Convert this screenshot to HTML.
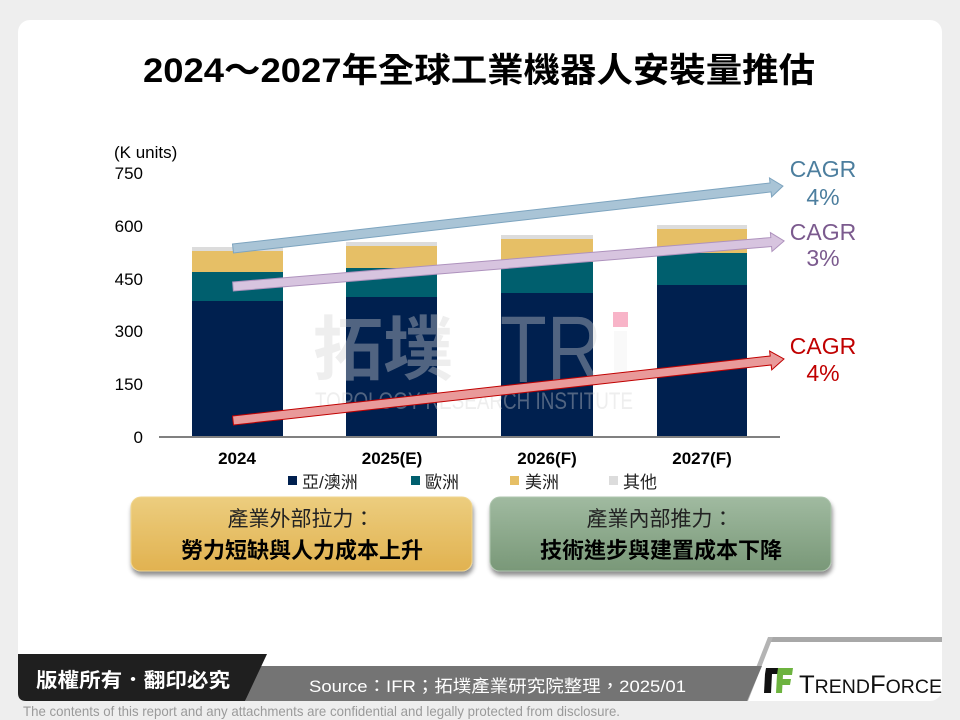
<!DOCTYPE html>
<html><head><meta charset="utf-8"><style>
html,body{margin:0;padding:0;background:#eeeeee;}
svg{display:block;}
text{font-family:"Liberation Sans","Noto Sans CJK TC",sans-serif;}
</style></head><body>
<svg width="960" height="720" viewBox="0 0 960 720" xmlns="http://www.w3.org/2000/svg">
<defs>
<linearGradient id="gy" x1="0" y1="0" x2="0" y2="1"><stop offset="0" stop-color="#ECCD7E"/><stop offset="1" stop-color="#E1B250"/></linearGradient>
<linearGradient id="gg" x1="0" y1="0" x2="0" y2="1"><stop offset="0" stop-color="#A0BAA0"/><stop offset="1" stop-color="#799878"/></linearGradient>
<filter id="sh" x="-10%" y="-20%" width="120%" height="150%"><feGaussianBlur in="SourceAlpha" stdDeviation="2.5"/><feOffset dx="1" dy="4"/><feComponentTransfer><feFuncA type="linear" slope="0.45"/></feComponentTransfer><feMerge><feMergeNode/><feMergeNode in="SourceGraphic"/></feMerge></filter>
</defs>
<rect width="960" height="720" fill="#eeeeee"/>
<rect x="18" y="20" width="924" height="681" rx="12" fill="#ffffff"/>

<!-- title -->
<text x="143" y="82" font-size="34" font-weight="bold" fill="#000" textLength="672" lengthAdjust="spacingAndGlyphs">2024～2027年全球工業機器人安裝量推估</text>

<!-- y axis -->
<g font-size="17" fill="#000">
<text x="114" y="158">(K units)</text>
<text x="143" y="179" text-anchor="end">750</text>
<text x="143" y="232" text-anchor="end">600</text>
<text x="143" y="285" text-anchor="end">450</text>
<text x="143" y="337" text-anchor="end">300</text>
<text x="143" y="390" text-anchor="end">150</text>
<text x="143" y="443" text-anchor="end">0</text>
</g>

<!-- bars -->
<g>
<rect x="192" y="247" width="91" height="4" fill="#DCDCDC"/>
<rect x="192" y="251" width="91" height="21" fill="#E6BF66"/>
<rect x="192" y="272" width="91" height="29" fill="#005F6E"/>
<rect x="192" y="301" width="91" height="136" fill="#00204F"/>

<rect x="346" y="242" width="91" height="4" fill="#DCDCDC"/>
<rect x="346" y="246" width="91" height="22" fill="#E6BF66"/>
<rect x="346" y="268" width="91" height="30" fill="#005F6E"/>
<rect x="346" y="297" width="91" height="140" fill="#00204F"/>

<rect x="501" y="235" width="92" height="4" fill="#DCDCDC"/>
<rect x="501" y="239" width="92" height="23" fill="#E6BF66"/>
<rect x="501" y="262" width="92" height="31" fill="#005F6E"/>
<rect x="501" y="293" width="92" height="144" fill="#00204F"/>

<rect x="657" y="225" width="90" height="4" fill="#DCDCDC"/>
<rect x="657" y="229" width="90" height="24" fill="#E6BF66"/>
<rect x="657" y="253" width="90" height="32" fill="#005F6E"/>
<rect x="657" y="285" width="90" height="152" fill="#00204F"/>
</g>
<line x1="159" y1="437" x2="780" y2="437" stroke="#808080" stroke-width="2"/>

<!-- watermark -->
<g opacity="0.38" fill="#d4d4d4">
<text x="313" y="374" font-size="70" font-weight="bold" font-family="Noto Sans CJK TC, sans-serif">拓墣</text>
<text x="500" y="382" font-size="95" textLength="102" lengthAdjust="spacingAndGlyphs">TR</text>
<text x="315" y="409" font-size="24" textLength="318" lengthAdjust="spacingAndGlyphs">TOPOLOGY RESEARCH INSTITUTE</text>
</g>
<rect x="614" y="331" width="13" height="51" fill="#d4d4d4" opacity="0.15"/>
<rect x="613" y="312" width="15" height="15" fill="#F8B4C8"/>

<!-- x labels -->
<g font-size="17" font-weight="bold" fill="#000" text-anchor="middle">
<text x="237" y="464">2024</text>
<text x="392" y="464">2025(E)</text>
<text x="547" y="464">2026(F)</text>
<text x="702" y="464">2027(F)</text>
</g>

<!-- legend -->
<g font-size="17" fill="#222">
<rect x="288" y="476" width="9" height="9" fill="#00204F"/><text x="302" y="488">亞/澳洲</text>
<rect x="411" y="476" width="9" height="9" fill="#005F6E"/><text x="425" y="488">歐洲</text>
<rect x="510" y="476" width="9" height="9" fill="#E6BF66"/><text x="525" y="488">美洲</text>
<rect x="609" y="476" width="9" height="9" fill="#DCDCDC"/><text x="623" y="488">其他</text>
</g>

<!-- arrows -->
<g transform="translate(233,248.5) rotate(-6.48)">
<polygon points="0,-4.5 541,-4.5 541,-9.5 553.5,0 541,9.5 541,4.5 0,4.5" fill="#A9C4D6" stroke="#7DA4BF" stroke-width="1"/>
</g>
<g transform="translate(233,286.5) rotate(-4.72)">
<polygon points="0,-4.5 540,-4.5 540,-9.5 553,0 540,9.5 540,4.5 0,4.5" fill="#D7C4DF" stroke="#AE92BD" stroke-width="1"/>
</g>
<g transform="translate(233,420.5) rotate(-6.37)">
<polygon points="0,-4.5 541,-4.5 541,-9.5 554.4,0 541,9.5 541,4.5 0,4.5" fill="#E99A9A" stroke="#C00000" stroke-width="1"/>
</g>

<!-- CAGR labels -->
<g font-size="23" text-anchor="middle">
<text x="823" y="177" fill="#4C7E9E">CAGR</text>
<text x="823" y="205" fill="#4C7E9E">4%</text>
<text x="823" y="240" fill="#7B5A8E">CAGR</text>
<text x="823" y="266" fill="#7B5A8E">3%</text>
<text x="823" y="354" fill="#C00000">CAGR</text>
<text x="823" y="381" fill="#C00000">4%</text>
</g>

<!-- boxes -->
<rect x="131" y="497" width="341" height="74" rx="10" fill="url(#gy)" stroke="#F0D690" stroke-width="1" filter="url(#sh)"/>
<rect x="490" y="497" width="341" height="74" rx="10" fill="url(#gg)" stroke="#AFC6AF" stroke-width="1" filter="url(#sh)"/>
<g text-anchor="middle" fill="#000">
<text x="301" y="526" font-size="21" fill="#222">產業外部拉力：</text>
<text x="302" y="558" font-size="22" font-weight="bold">勞力短缺與人力成本上升</text>
<text x="660" y="526" font-size="21" fill="#222">產業內部推力：</text>
<text x="661" y="558" font-size="22" font-weight="bold">技術進步與建置成本下降</text>
</g>

<!-- footer -->
<polygon points="770,637 942,637 942,642 768,642" fill="#a8a8a8"/>
<polygon points="768,637 773,637 748,701 743,701" fill="#b4b4b4"/>
<polygon points="258,666 762,666 747,701 245,701" fill="#747474"/>
<path d="M18,654 L267,654 L245,701 L26,701 Q18,701 18,693 Z" fill="#1f1f1f"/>
<text x="36" y="687" font-size="20" font-weight="bold" fill="#fff" textLength="194" lengthAdjust="spacingAndGlyphs">版權所有．翻印必究</text>
<text x="309" y="692" font-size="17" fill="#fff" textLength="377" lengthAdjust="spacingAndGlyphs">Source：IFR；拓墣產業研究院整理，2025/01</text>

<!-- logo -->
<polygon points="766,668 784,668 783,674 765,674" fill="#111"/>
<polygon points="765,674 772,674 771,693 764,693" fill="#111"/>
<polygon points="778,668 793,668 792,675 777,675" fill="#6DB33F"/>
<polygon points="777,675 783,675 782,693 776,693" fill="#6DB33F"/>
<polygon points="781,679 791,679 790,685 781,685" fill="#6DB33F"/>
<text x="799" y="693" font-family="Liberation Serif, serif" fill="#111" textLength="143" lengthAdjust="spacingAndGlyphs"><tspan font-size="25">T</tspan><tspan font-size="19">REND</tspan><tspan font-size="25">F</tspan><tspan font-size="19">ORCE</tspan></text>

<text x="23" y="716" font-size="14" fill="#9a9a9a" textLength="597" lengthAdjust="spacingAndGlyphs">The contents of this report and any attachments are confidential and legally protected from disclosure.</text>
</svg>
</body></html>
